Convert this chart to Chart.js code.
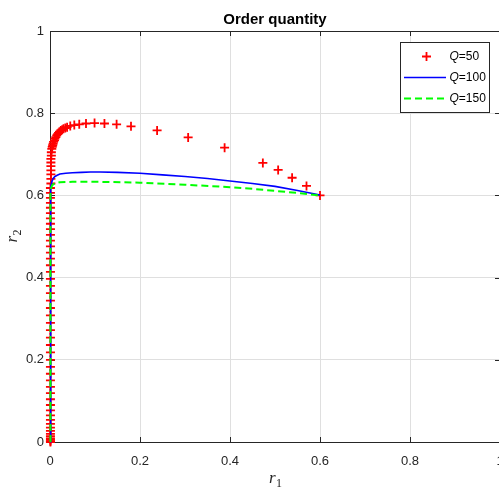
<!DOCTYPE html>
<html>
<head>
<meta charset="utf-8">
<title>Order quantity</title>
<script src="https://cdn.jsdelivr.net/npm/chart.js@4.4.0/dist/chart.umd.min.js"></script>
<style>
    html, body { margin: 0; padding: 0; background: #fff; overflow: hidden; }
    canvas { display: block; }
</style>
</head>
<body>
<canvas id="orderChart" width="502" height="489" style="width:502px;height:489px"></canvas>
<script>
// Q=50 : red plus markers (vertical run along r1 ~ 0, then the arc out to 0.6)
let q50X = [
    0.001, 0.001, 0.001, 0.001, 0.001, 0.001, 0.001, 0.001, 0.001, 0.001,
    0.001, 0.001, 0.001, 0.001, 0.001, 0.001, 0.001, 0.001, 0.001, 0.001,
    0.001, 0.001, 0.001, 0.001, 0.001, 0.001, 0.001, 0.001, 0.001, 0.001,
    0.001, 0.001, 0.001, 0.001, 0.001, 0.001, 0.001, 0.001, 0.001, 0.001,
    0.001, 0.001, 0.001, 0.001, 0.001, 0.001, 0.001, 0.002, 0.002, 0.002,
    0.002, 0.002, 0.002, 0.002, 0.003, 0.003,
    0.004, 0.005, 0.006, 0.007, 0.008, 0.010, 0.011, 0.013, 0.015, 0.017,
    0.019, 0.021, 0.024, 0.027, 0.030, 0.034, 0.038, 0.045, 0.054, 0.065,
    0.080, 0.099, 0.121, 0.148, 0.180, 0.238, 0.307, 0.388, 0.473, 0.507,
    0.538, 0.570, 0.600
];
let q50Y = [
    0.000, 0.002, 0.005, 0.009, 0.014, 0.020, 0.027, 0.035, 0.044, 0.054,
    0.065, 0.077, 0.090, 0.104, 0.119, 0.134, 0.150, 0.166, 0.183, 0.200,
    0.218, 0.236, 0.254, 0.272, 0.290, 0.308, 0.326, 0.344, 0.362, 0.380,
    0.397, 0.414, 0.430, 0.446, 0.461, 0.476, 0.490, 0.504, 0.518, 0.531,
    0.544, 0.557, 0.570, 0.582, 0.594, 0.606, 0.618, 0.629, 0.640, 0.651,
    0.661, 0.671, 0.680, 0.689, 0.697, 0.705,
    0.713, 0.718, 0.722, 0.726, 0.730, 0.734, 0.738, 0.742, 0.746, 0.749,
    0.752, 0.755, 0.758, 0.760, 0.762, 0.764, 0.766, 0.769, 0.771, 0.773,
    0.775, 0.776, 0.775, 0.773, 0.768, 0.758, 0.741, 0.716, 0.679, 0.662,
    0.643, 0.623, 0.600
];

// Q=100 : solid blue
let q100X = [0.001, 0.001, 0.002, 0.004, 0.007, 0.011, 0.016, 0.022, 0.035, 0.050, 0.070, 0.090, 0.111, 0.150, 0.200, 0.250, 0.300, 0.350, 0.400, 0.450, 0.500, 0.550, 0.600];
let q100Y = [0.000, 0.600, 0.620, 0.633, 0.641, 0.646, 0.649, 0.652, 0.654, 0.655, 0.656, 0.657, 0.657, 0.656, 0.654, 0.650, 0.646, 0.641, 0.635, 0.629, 0.622, 0.612, 0.601];

// Q=150 : dashed green
let q150X = [0.001, 0.001, 0.002, 0.005, 0.010, 0.022, 0.050, 0.111, 0.200, 0.300, 0.400, 0.450, 0.500, 0.550, 0.600];
let q150Y = [0.000, 0.605, 0.617, 0.625, 0.629, 0.632, 0.633, 0.633, 0.631, 0.626, 0.620, 0.616, 0.611, 0.606, 0.600];

let seriesNames = ['50', '100', '150'];
let seriesColors = ['#ff0000', '#0000ff', '#00ff00'];
let axisTicks = [0, 0.2, 0.4, 0.6, 0.8, 1];
let tickLabels = ['0', '0.2', '0.4', '0.6', '0.8', '1'];
let chartTitle = 'Order quantity';

let sansFont = "'Liberation Sans', Arial, Helvetica, sans-serif";
let serifFont = "'Liberation Serif', 'Times New Roman', serif";
let axisColor = '#262626';

function toPoints(xs, ys) {
    return xs.map((x, i) => ({ x: x, y: ys[i] }));
}

// draws the box, inward ticks, x tick labels, title, legend and math axis labels
let matlabLook = {
    id: 'matlabLook',
    beforeDatasetsDraw: function (chart) {
        let ctx = chart.ctx;
        let a = chart.chartArea;
        let xs = chart.scales.x;
        let ys = chart.scales.y;
        ctx.save();
        ctx.strokeStyle = axisColor;
        ctx.lineWidth = 1;
        ctx.beginPath();
        axisTicks.forEach(function (v) {
            let px = Math.round(xs.getPixelForValue(v)) + 0.5;
            ctx.moveTo(px, a.bottom); ctx.lineTo(px, a.bottom - 5);
            ctx.moveTo(px, a.top); ctx.lineTo(px, a.top + 5);
            let py = Math.round(ys.getPixelForValue(v)) + 0.5;
            ctx.moveTo(a.left, py); ctx.lineTo(a.left + 5, py);
            ctx.moveTo(a.right, py); ctx.lineTo(a.right - 5, py);
        });
        ctx.stroke();
        ctx.strokeRect(Math.round(a.left) + 0.5, Math.round(a.top) + 0.5,
            Math.round(a.right - a.left), Math.round(a.bottom - a.top));

        // x tick labels
        ctx.fillStyle = axisColor;
        ctx.font = '13px ' + sansFont;
        ctx.textAlign = 'center';
        ctx.textBaseline = 'alphabetic';
        axisTicks.forEach(function (v, i) {
            ctx.fillText(tickLabels[i], xs.getPixelForValue(v), a.bottom + 22.5);
        });
        ctx.restore();
    },
    afterDraw: function (chart) {
        let ctx = chart.ctx;
        let a = chart.chartArea;
        let cx = (a.left + a.right) / 2;
        ctx.save();

        // title
        ctx.fillStyle = '#000';
        ctx.font = 'bold 15px ' + sansFont;
        ctx.textAlign = 'center';
        ctx.textBaseline = 'alphabetic';
        ctx.fillText(chartTitle, cx, 24);

        // x label r1
        ctx.fillStyle = axisColor;
        ctx.textAlign = 'left';
        ctx.font = 'italic 17px ' + serifFont;
        let rw = ctx.measureText('r').width;
        ctx.fillText('r', cx - 6, 483);
        ctx.font = '12px ' + serifFont;
        ctx.fillText('1', cx - 6 + rw + 0.5, 487);

        // y label r2 (rotated)
        ctx.translate(17, (a.top + a.bottom) / 2);
        ctx.rotate(-Math.PI / 2);
        ctx.font = 'italic 17px ' + serifFont;
        ctx.fillText('r', -6, 0);
        ctx.font = '12px ' + serifFont;
        ctx.fillText('2', -6 + rw + 0.5, 4);
        ctx.setTransform(1, 0, 0, 1, 0, 0);

        // legend box
        let bx = 400.5, by = 42.5, bw = 89, bh = 70;
        ctx.fillStyle = '#fff';
        ctx.fillRect(bx, by, bw, bh);
        ctx.strokeStyle = axisColor;
        ctx.lineWidth = 1;
        ctx.strokeRect(bx, by, bw, bh);

        let rowY = [56.5, 77.5, 98.5];
        for (let i = 0; i < 3; i++) {
            let y = rowY[i];
            ctx.strokeStyle = seriesColors[i];
            ctx.setLineDash([]);
            ctx.beginPath();
            if (i === 0) {
                ctx.lineWidth = 1.8;
                ctx.moveTo(422, y); ctx.lineTo(431, y);
                ctx.moveTo(426.5, y - 4.5); ctx.lineTo(426.5, y + 4.5);
            } else {
                ctx.lineWidth = i === 1 ? 1.5 : 2;
                if (i === 2) ctx.setLineDash([7, 4]);
                ctx.moveTo(404, y); ctx.lineTo(446, y);
            }
            ctx.stroke();
            ctx.setLineDash([]);

            ctx.fillStyle = '#000';
            ctx.textBaseline = 'middle';
            ctx.textAlign = 'left';
            ctx.font = 'italic 12px ' + sansFont;
            let qw = ctx.measureText('Q').width;
            ctx.fillText('Q', 449.5, y);
            ctx.font = '12px ' + sansFont;
            ctx.fillText('=' + seriesNames[i], 449.5 + qw, y);
        }
        ctx.restore();
    }
};

function tickText(value) {
    let i = axisTicks.findIndex(v => Math.abs(v - value) < 1e-9);
    return i < 0 ? '' : tickLabels[i];
}

new Chart(document.getElementById('orderChart'), {
    type: 'scatter',
    data: {
        datasets: [
            {
                label: 'Q=50',
                data: toPoints(q50X, q50Y),
                pointStyle: 'cross',
                pointRadius: 4.5,
                pointBorderWidth: 1.8,
                borderColor: seriesColors[0],
                backgroundColor: seriesColors[0],
                showLine: false,
                order: 3,
                clip: false
            },
            {
                label: 'Q=100',
                data: toPoints(q100X, q100Y),
                borderColor: seriesColors[1],
                borderWidth: 1.6,
                pointRadius: 0,
                showLine: true,
                tension: 0,
                order: 2,
                clip: false
            },
            {
                label: 'Q=150',
                data: toPoints(q150X, q150Y),
                borderColor: seriesColors[2],
                borderWidth: 2,
                borderDash: [7, 4],
                pointRadius: 0,
                showLine: true,
                tension: 0,
                order: 1,
                clip: false
            }
        ]
    },
    options: {
        responsive: false,
        devicePixelRatio: 1,
        animation: false,
        events: [],
        layout: { autoPadding: false, padding: { top: 31, left: 0, right: 2, bottom: 0 } },
        plugins: {
            legend: { display: false },
            title: { display: false },
            tooltip: { enabled: false }
        },
        scales: {
            x: {
                type: 'linear',
                min: 0,
                max: 1,
                afterFit: function (s) { s.height = 47; s.paddingLeft = 0; s.paddingRight = 0; },
                afterBuildTicks: function (s) { s.ticks = axisTicks.map(v => ({ value: v })); },
                grid: { color: '#dfdfdf', drawTicks: false },
                border: { display: false },
                ticks: { display: false }
            },
            y: {
                type: 'linear',
                min: 0,
                max: 1,
                afterFit: function (s) { s.width = 50; s.paddingTop = 0; s.paddingBottom = 0; },
                afterBuildTicks: function (s) { s.ticks = axisTicks.map(v => ({ value: v })); },
                grid: { color: '#dfdfdf', drawTicks: false },
                border: { display: false },
                ticks: {
                    padding: 6,
                    color: axisColor,
                    font: { family: sansFont, size: 13 },
                    callback: tickText
                }
            }
        }
    },
    plugins: [matlabLook]
});
</script>
</body>
</html>
